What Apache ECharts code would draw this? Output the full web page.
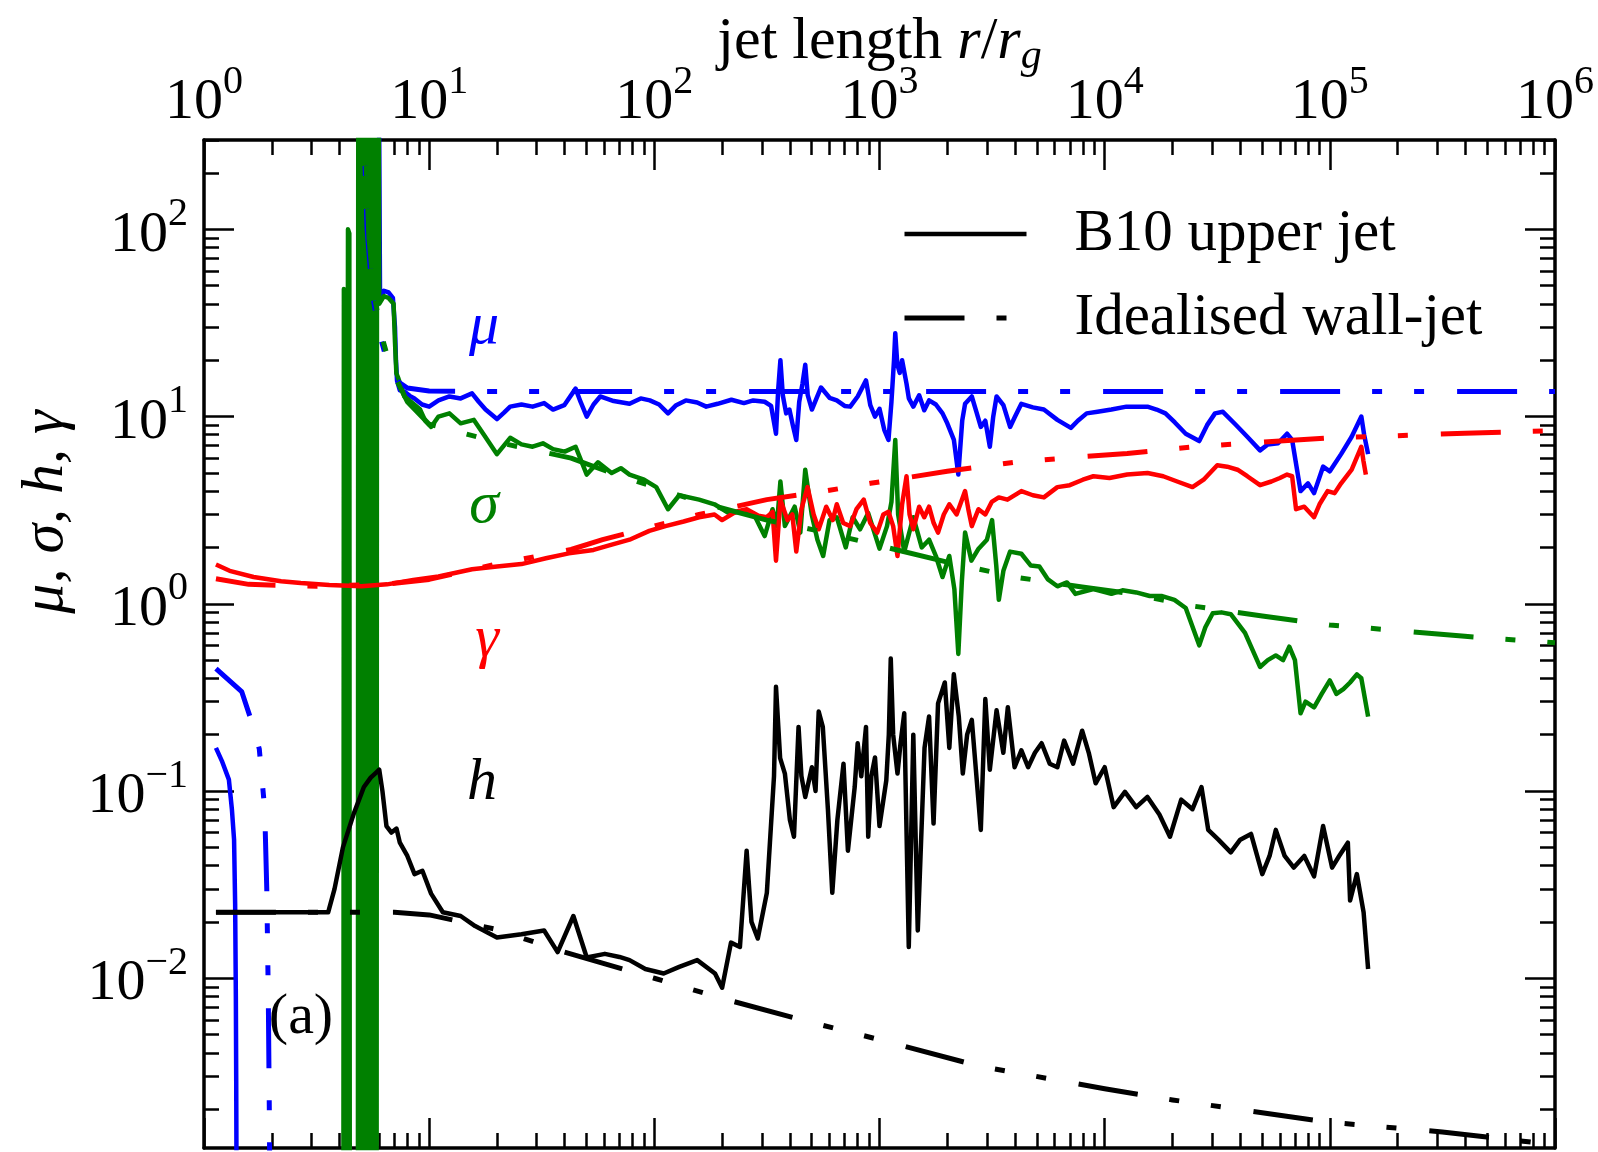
<!DOCTYPE html>
<html><head><meta charset="utf-8">
<script src="https://cdn.jsdelivr.net/npm/echarts@6/dist/echarts.min.js"></script>
<style>html,body{margin:0;padding:0;background:#fff}#c{width:1598px;height:1152px}</style>
</head><body><div id="c"></div>
<script>
// ---------------- data (r / r_g , value) ----------------
const xMajor = [1, 10, 100, 1e3, 1e4, 1e5, 1e6];
const yMajor = [0.01, 0.1, 1, 10, 100];
const minorMult = [2, 3, 4, 5, 6, 7, 8, 9];
const xRange = [1, 1e6];
const yRange = [0.00124, 300];

const muB10Left = [[1.13,0.17],[1.2,0.145],[1.29,0.115],[1.33,0.08],[1.36,0.055],[1.375,0.025],[1.385,0.008],[1.39,0.003],[1.395,0.0008]];
const muB10 = [[5.95,2000],[6.05,42],[6.3,47],[6.6,46],[6.9,43],[7.05,30],[7.12,20],[7.2,15.5],[7.41,13.8],[7.76,13.6],[8.2,12.9],[8.6,12.5],[9.3,11.6],[10,11.3],[11,12.2],[12.3,12.8],[13.8,12.5],[15.5,13.3],[16.6,12],[17.8,10.9],[20,9.7],[21.5,10.5],[22.9,11.3],[25.7,11.6],[28.8,11.3],[32.4,11.8],[35.5,10.9],[39.8,11.5],[44.7,14.1],[47,12],[50.1,10],[53.7,11.6],[57.5,12.8],[66,12.1],[77.6,11.7],[87,12.5],[95.5,12.2],[105,11.6],[115,10.4],[125,11.5],[138,12.2],[155,11.9],[170,11.3],[191,11.7],[220,12.3],[250,11.8],[275,12.2],[309,12.0],[330,11.4],[347,8.1],[355,14],[363,20],[372,13],[385,10.4],[398,10.9],[412,9],[427,7.5],[440,12],[455,15],[468,18.9],[480,13],[501,10.9],[525,12.5],[550,14.3],[600,12.6],[646,12.2],[700,11.4],[741,11.3],[800,12.8],[871,15.6],[910,11.5],[955,10],[1000,11],[1050,8.5],[1096,7.5],[1130,12],[1160,20],[1175,27.9],[1200,19],[1230,17.1],[1260,20],[1318,15],[1350,12.5],[1413,11.3],[1500,13],[1580,10.8],[1660,12.2],[1780,11.6],[1905,10.4],[2000,9.2],[2140,7.5],[2239,4.9],[2330,9.5],[2399,11.7],[2570,12.8],[2700,10.5],[2818,8.8],[2950,9.5],[3090,6.9],[3200,10],[3311,12.8],[3550,11.5],[3802,8.8],[4000,10],[4266,11.7],[4800,11.2],[5370,10.9],[6166,9.6],[7079,8.7],[7600,9.5],[8318,10.4],[9300,10.6],[10715,10.9],[12500,11.3],[15488,11.3],[17000,10.9],[18621,10.4],[20500,9.3],[22909,8.1],[26303,7.4],[28500,9],[30903,10.4],[33500,10.6],[38019,9.1],[43000,7.8],[48978,6.6],[53000,7.1],[58884,7.2],[64565,8.1],[68000,7.5],[74131,4.0],[80000,4.4],[85114,3.9],[93325,5.4],[100000,5.1],[112202,6.3],[125000,7.8],[138038,10],[142000,8],[147911,6.3]];
const muIdealLeft = [[1.13,0.45],[1.47,0.34],[1.6,0.25],[1.76,0.168],[1.86,0.08],[1.9,0.03],[1.93,0.008],[1.95,0.002],[1.96,0.0008]];
const muIdeal = [[5.0,1e4],[5.15,300],[5.3,100],[5.6,45],[6.0,28],[6.6,18.5],[7.2,15.5],[8,14.2],[10,13.7],[20,13.6],[1e6,13.6]];

const sigmaB10 = [[4.15,1e-6],[4.18,48],[4.24,44],[4.27,1e-6],[4.33,1e-6],[4.36,100],[4.42,95],[4.45,1e-6],
[4.82,1e-6],[4.85,1e6],[4.89,1e-6],[4.93,1e6],[4.97,1e-6],[5.01,1e6],[5.05,1e-6],[5.09,1e6],[5.13,1e-6],[5.18,1e6],[5.23,1e-6],[5.28,1e6],[5.33,1e-6],[5.38,1e6],[5.43,1e-6],[5.48,1e6],[5.53,1e-6],[5.58,1e6],[5.63,1e-6],[5.68,1e6],[5.73,1e-6],[5.78,1e6],[5.83,1e-6],[5.88,1e6],
[6.0,40],[6.3,44],[6.6,43],[6.95,40],[7.05,25],[7.15,17],[7.3,16],[7.76,12.8],[8.3,12],[9.12,10.9],[9.6,9.5],[10.2,8.8],[11,10],[12.3,10.4],[13.8,9.2],[15.8,9.6],[17.5,8],[20,6.3],[22.9,7.7],[25.7,7.1],[28.8,6.9],[32,7.2],[35.5,6.7],[40,6.5],[44.7,6.9],[50.1,4.9],[56.2,5.7],[64.6,5.0],[71,5.3],[77.6,4.9],[90,4.6],[102,4.2],[115,3.2],[129,3.8],[158,3.6],[185,3.4],[214,3.05],[245,3.1],[275,3.05],[309,2.3],[335,3.2],[350,2.6],[363,4.5],[380,2.6],[420,3.3],[445,2.4],[468,5.2],[500,3.0],[530,2.2],[562,1.8],[600,2.8],[646,2.9],[708,2.0],[760,2.9],[820,2.5],[891,3.05],[1000,1.97],[1080,2.6],[1130,3.5],[1175,7.5],[1210,3],[1288,1.9],[1413,2.9],[1540,2.0],[1660,2.2],[1780,1.8],[1905,1.39],[2042,1.8],[2150,1.2],[2239,0.54],[2320,1.3],[2399,2.4],[2560,1.7],[2754,1.97],[3000,2.2],[3162,2.8],[3300,1.6],[3388,1.05],[3550,1.5],[3802,1.9],[4266,1.85],[4700,1.6],[5129,1.58],[5600,1.35],[6166,1.24],[6800,1.3],[7413,1.13],[8913,1.2],[10715,1.13],[12000,1.18],[13804,1.15],[15849,1.1],[18000,1.1],[20417,1.05],[22909,0.95],[26303,0.6],[28000,0.75],[30200,0.89],[33000,0.9],[36308,0.88],[42000,0.7],[48978,0.46],[53000,0.5],[57544,0.53],[62000,0.5],[66069,0.59],[70000,0.5],[74131,0.26],[78000,0.3],[85114,0.28],[92000,0.33],[1e5,0.39],[107000,0.33],[114815,0.35],[123000,0.38],[131826,0.42],[138000,0.4],[147911,0.25]];
const sigmaIdeal = [[5.05,1e4],[5.2,300],[5.4,90],[5.7,45],[6.1,28],[6.6,20],[7.2,15.5],[8,12],[10,9.1],[20,7.3],[42.7,6.0],[58.9,5.2],[100,4.2],[158,3.5],[316,2.8],[537,2.45],[912,2.1],[2000,1.67],[3981,1.39],[7943,1.23],[12589,1.14],[25119,0.97],[50119,0.86],[1e5,0.77],[2e5,0.72],[3.98e5,0.67],[1e6,0.62]];

const gammaB10 = [[1.13,1.62],[1.3,1.5],[1.66,1.39],[2.2,1.32],[2.69,1.29],[3.6,1.26],[5.01,1.24],[6.5,1.27],[8.5,1.34],[11,1.4],[15.5,1.53],[20,1.58],[25.7,1.63],[33,1.75],[41.7,1.86],[53.7,1.94],[63,2.05],[77.6,2.2],[95,2.45],[112,2.6],[135,2.75],[158,2.9],[185,3.0],[200,2.8],[230,3.1],[257,3.2],[290,2.95],[316,2.9],[335,3.1],[347,1.7],[363,3.6],[390,2.8],[410,3.0],[427,1.9],[450,3.2],[479,4.2],[510,3.0],[537,2.5],[580,3.3],[620,2.8],[646,3.4],[690,2.7],[741,2.6],[790,3.2],[851,3.6],[910,2.7],[977,2.4],[1040,3.0],[1096,3.1],[1150,2.6],[1202,1.8],[1260,3.4],[1318,4.8],[1360,3.0],[1413,2.5],[1500,3.3],[1580,2.9],[1660,3.3],[1740,2.7],[1820,2.4],[1930,3.0],[2042,3.4],[2200,3.0],[2399,4.0],[2480,3.2],[2570,2.6],[2750,3.2],[2951,3.0],[3150,3.5],[3388,3.7],[3700,3.6],[4266,4.0],[4800,3.8],[5370,3.7],[6166,4.2],[7000,4.3],[8000,4.6],[8913,4.8],[10500,4.7],[12589,4.9],[15500,5.0],[18197,4.8],[21000,4.5],[24547,4.2],[27500,4.6],[31623,5.5],[35000,5.4],[38905,5.2],[43000,4.8],[48978,4.3],[55000,4.5],[60000,4.7],[64565,4.9],[68000,4.8],[70795,3.2],[77000,3.3],[85114,2.9],[90000,3.4],[97724,4.0],[105000,3.9],[112202,4.4],[125000,5.2],[138038,6.9],[141000,5.8],[144544,4.9]];
const gammaIdeal = [[1.13,1.36],[1.58,1.27],[3.16,1.24],[6.31,1.27],[10,1.35],[20,1.63],[42.7,1.95],[58.9,2.2],[100,2.6],[158,3.0],[316,3.6],[537,3.95],[912,4.4],[2000,5.1],[3981,5.7],[7943,6.1],[12589,6.35],[25119,6.9],[50119,7.3],[1e5,7.7],[2e5,7.9],[3.98e5,8.15],[1e6,8.4]];

const hB10 = [[1.13,0.0225],[3.56,0.0225],[3.8,0.03],[4.14,0.05],[4.63,0.076],[5.13,0.105],[5.5,0.118],[5.75,0.124],[6.0,0.13],[6.2,0.1],[6.46,0.065],[6.8,0.06],[7.16,0.063],[7.41,0.053],[8.0,0.045],[8.61,0.036],[9.33,0.0375],[10.2,0.0283],[11.5,0.0225],[13.8,0.0215],[16,0.019],[20,0.0165],[25.7,0.0172],[32.4,0.018],[37.2,0.0138],[43.7,0.0215],[50.1,0.0129],[60.3,0.0135],[70,0.013],[77.6,0.0125],[91.2,0.0112],[110,0.0106],[129,0.0115],[155,0.0125],[186,0.0106],[200,0.0089],[219,0.0155],[240,0.0147],[257,0.048],[270,0.02],[288,0.0163],[316,0.0286],[340,0.12],[347,0.36],[362,0.15],[380,0.124],[400,0.07],[417,0.057],[437,0.22],[450,0.12],[468,0.093],[501,0.134],[520,0.1],[537,0.266],[560,0.22],[590,0.08],[617,0.0286],[650,0.07],[692,0.14],[705,0.09],[724,0.048],[776,0.105],[800,0.18],[830,0.12],[871,0.22],[891,0.057],[920,0.12],[955,0.151],[1000,0.065],[1072,0.114],[1100,0.2],[1122,0.51],[1150,0.2],[1202,0.124],[1240,0.18],[1288,0.26],[1349,0.0147],[1413,0.2],[1479,0.018],[1585,0.17],[1660,0.25],[1738,0.067],[1820,0.294],[1950,0.38],[2042,0.17],[2138,0.42],[2250,0.25],[2344,0.124],[2450,0.2],[2570,0.24],[2818,0.062],[2951,0.31],[3090,0.13],[3311,0.27],[3548,0.16],[3715,0.28],[3981,0.134],[4266,0.165],[4571,0.134],[4900,0.16],[5248,0.18],[5700,0.14],[6166,0.134],[6607,0.186],[7244,0.14],[7943,0.21],[8500,0.16],[9120,0.11],[1e4,0.134],[10965,0.082],[12303,0.099],[13804,0.082],[15488,0.093],[17500,0.075],[19498,0.057],[21878,0.09],[24547,0.08],[26915,0.105],[28840,0.062],[32000,0.055],[36308,0.047],[40000,0.055],[44668,0.059],[50119,0.036],[54000,0.045],[57544,0.062],[63000,0.045],[69183,0.039],[77000,0.045],[85114,0.035],[93325,0.065],[102329,0.039],[110000,0.045],[120226,0.053],[123027,0.026],[131826,0.036],[141254,0.0225],[147911,0.0112]];
const hIdeal = [[1.13,0.0225],[7,0.0225],[10,0.0218],[14,0.02],[20,0.0182],[39.8,0.0138],[100,0.01],[200,0.0078],[501,0.0058],[1000,0.0047],[2754,0.0034],[1e4,0.00257],[2e4,0.00224],[1e5,0.0017],[3.16e5,0.00151],[1e6,0.00129]];

// ---------------- helpers ----------------
const FONT = '"Liberation Serif", "DejaVu Serif", serif';
const BLUE = '#0000ff', GREEN = '#008000', RED = '#ff0000', BLACK = '#000000';
const DASH = [60, 32, 10, 32, 10, 33];
const lg = v => Math.log10(v);

const xMinor = [], yMinor = [];
for (let d = 0; d < 6; d++) minorMult.forEach(m => xMinor.push(lg(m * Math.pow(10, d))));
for (let d = -3; d < 3; d++) minorMult.forEach(m => { const v = m * Math.pow(10, d); if (v >= yRange[0] && v <= yRange[1]) yMinor.push(lg(v)); });
const xMajorL = xMajor.map(lg), yMajorL = yMajor.map(lg);

const supRich = {
  b: {fontFamily: FONT, fontSize: 58, lineHeight: 70, verticalAlign: 'bottom', color: '#000'},
  s: {fontFamily: FONT, fontSize: 40, lineHeight: 40, verticalAlign: 'top', color: '#000'}
};
const powFmt = v => { const e = Math.round(v); return '{b|10}{s|' + (e < 0 ? '\u2212' + (-e) : e) + '}'; };

function decoAxis(isX, pos, major, withLabel, lineShow) {
  const ax = {
    type: 'value', position: pos, gridIndex: 0,
    min: isX ? 0 : lg(yRange[0]), max: isX ? 6 : lg(yRange[1]),
    axisLine: {show: lineShow, onZero: false, lineStyle: {color: '#000', width: 3.5}},
    axisTick: {show: true, inside: true, length: major ? 30 : 15,
      customValues: isX ? (major ? xMajorL : xMinor) : (major ? yMajorL : yMinor),
      lineStyle: {color: '#000', width: 2.5}},
    axisLabel: {show: false},
    splitLine: {show: false}, minorTick: {show: false}, minorSplitLine: {show: false},
    silent: true
  };
  if (withLabel) {
    ax.axisLabel = {show: true, customValues: isX ? xMajorL : yMajorL, formatter: powFmt,
      rich: supRich, margin: isX ? 8 : 16, showMinLabel: true, showMaxLabel: true, color: '#000'};
  }
  return ax;
}

const xTop = decoAxis(true, 'top', true, true, true);
xTop.name = '{n|jet length }{i|r}{n|/}{i|r}{g|g}';
xTop.nameLocation = 'middle';
xTop.nameGap = 62;
xTop.nameMoveOverlap = false;
xTop.nameTextStyle = {rich: {
  n: {fontFamily: FONT, fontSize: 60, lineHeight: 72, verticalAlign: 'middle', color: '#000'},
  i: {fontFamily: FONT, fontStyle: 'italic', fontSize: 60, lineHeight: 72, verticalAlign: 'middle', color: '#000'},
  g: {fontFamily: FONT, fontStyle: 'italic', fontSize: 42, lineHeight: 42, verticalAlign: 'bottom', color: '#000'}
}};

const xAxes = [
  {type: 'log', logBase: 10, min: xRange[0], max: xRange[1], position: 'bottom',
   axisLine: {show: false, onZero: false}, axisTick: {show: false}, axisLabel: {show: false}, splitLine: {show: false}},
  xTop,
  decoAxis(true, 'top', false, false, false),
  decoAxis(true, 'bottom', true, false, true),
  decoAxis(true, 'bottom', false, false, false)
];
const yAxes = [
  {type: 'log', logBase: 10, min: yRange[0], max: yRange[1], position: 'left',
   axisLine: {show: false, onZero: false}, axisTick: {show: false}, axisLabel: {show: false}, splitLine: {show: false}},
  decoAxis(false, 'left', true, true, true),
  decoAxis(false, 'left', false, false, false),
  decoAxis(false, 'right', true, false, true),
  decoAxis(false, 'right', false, false, false)
];

function line(name, data, color, dashed) {
  return {
    type: 'line', name: name, data: data, xAxisIndex: 0, yAxisIndex: 0,
    showSymbol: false, symbol: 'none', animation: false, clip: true, silent: true,
    lineStyle: {color: color, width: dashed ? 5 : 4.5, type: dashed ? DASH : 'solid', cap: 'butt', join: 'round'},
    itemStyle: {color: color}
  };
}
const B = 'B10 upper jet', I = 'Idealised wall-jet';
const series = [
  line(B, muB10Left, BLUE, false),
  line(B, muB10, BLUE, false),
  line(B, sigmaB10, GREEN, false),
  line(B, gammaB10, RED, false),
  line(B, hB10, BLACK, false),
  line(I, muIdealLeft, BLUE, true),
  line(I, muIdeal, BLUE, true),
  line(I, sigmaIdeal, GREEN, true),
  line(I, gammaIdeal, RED, true),
  line(I, hIdeal, BLACK, true)
];

const txt = (t, x, y, color, italic, size, rot) => ({
  type: 'text', x: x, y: y, rotation: rot || 0, silent: true,
  style: {text: t, fill: color, font: (italic ? 'italic ' : '') + size + 'px ' + FONT,
          align: 'center', verticalAlign: 'middle', textAlign: 'center', textVerticalAlign: 'middle'}
});

const chart = echarts.init(document.getElementById('c'), null, {renderer: 'canvas'});
chart.setOption({
  backgroundColor: '#ffffff',
  animation: false,
  grid: {left: 204, right: 43, top: 140, bottom: 4, containLabel: false, outerBoundsMode: 'none'},
  xAxis: xAxes,
  yAxis: yAxes,
  legend: {
    show: true, orient: 'vertical', left: 902, top: 202, padding: 0,
    itemWidth: 122, itemHeight: 64, itemGap: 20, selectedMode: false,
    textStyle: {fontFamily: FONT, fontSize: 59, color: '#000', lineHeight: 64, padding: [0, 0, 0, 43]},
    data: [
      {name: B, itemStyle: {color: '#000', opacity: 0}, lineStyle: {color: '#000', width: 4.5, type: 'solid'}},
      {name: I, itemStyle: {color: '#000', opacity: 0}, lineStyle: {color: '#000', width: 5, type: DASH, cap: 'butt'}}
    ]
  },
  graphic: [
    txt('\u03bc', 484, 327, BLUE, true, 60),
    txt('\u03c3', 484, 506, GREEN, true, 60),
    txt('\u03b3', 487, 640, RED, true, 60),
    txt('h', 482, 783, BLACK, true, 60),
    txt('(a)', 301, 1018, BLACK, false, 58),
    txt('\u03bc, \u03c3, h, \u03b3', 46, 512, BLACK, true, 60, Math.PI / 2)
  ],
  series: series
});
</script></body></html>
